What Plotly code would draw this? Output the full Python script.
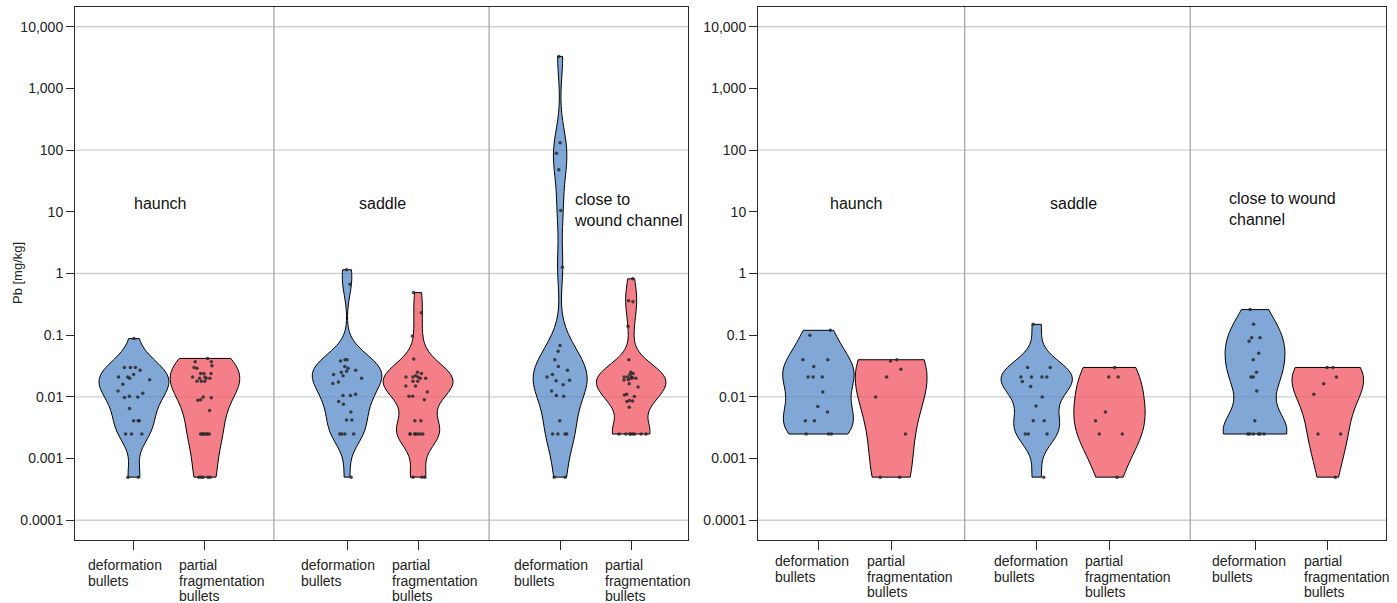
import numpy as np
import plotly.graph_objects as go

# Pb concentrations [mg/kg] per sampling region and bullet type
regions = ["haunch", "saddle", "close to wound channel"]
bullet_types = ["deformation bullets", "partial fragmentation bullets"]

# --- left panel ---
left_haunch_def = [0.088, 0.030, 0.030, 0.030, 0.027, 0.023, 0.021, 0.021, 0.020, 0.019,
                   0.016, 0.0125, 0.0115, 0.0102, 0.010, 0.0098, 0.0065, 0.0041, 0.0041,
                   0.0041, 0.0025, 0.0025, 0.0025, 0.0005, 0.0005]
left_haunch_frag = [0.042, 0.037, 0.037, 0.032, 0.030, 0.029, 0.024, 0.024, 0.024, 0.021,
                    0.021, 0.020, 0.020, 0.020, 0.018, 0.018, 0.018, 0.010, 0.0097, 0.009,
                    0.0088, 0.006, 0.0025, 0.0025, 0.0025, 0.0025, 0.0025, 0.0025, 0.0025,
                    0.0005, 0.0005, 0.0005, 0.0005, 0.0005]
left_saddle_def = [1.15, 0.67, 0.040, 0.040, 0.038, 0.031, 0.029, 0.027, 0.026, 0.025,
                   0.023, 0.022, 0.020, 0.0175, 0.0165, 0.011, 0.0105, 0.0105, 0.0084,
                   0.0076, 0.0057, 0.0042, 0.0042, 0.0025, 0.0025, 0.0025, 0.0025, 0.0005]
left_saddle_frag = [0.49, 0.23, 0.097, 0.041, 0.025, 0.024, 0.022, 0.021, 0.021, 0.021,
                    0.020, 0.020, 0.018, 0.018, 0.015, 0.015, 0.012, 0.0102, 0.0102, 0.009,
                    0.0041, 0.0041, 0.0025, 0.0025, 0.0025, 0.0025, 0.0025, 0.0025, 0.0025,
                    0.0005, 0.0005, 0.0005]
left_wound_def = [3300, 132, 89, 48, 10.5, 1.26, 0.068, 0.055, 0.040, 0.031, 0.027, 0.023,
                  0.021, 0.0186, 0.0183, 0.0157, 0.0124, 0.0105, 0.0102, 0.0041, 0.0025,
                  0.0025, 0.0025, 0.0025, 0.0005, 0.0005]
left_wound_frag = [0.82, 0.36, 0.35, 0.14, 0.040, 0.025, 0.024, 0.023, 0.021, 0.021, 0.021,
                   0.020, 0.020, 0.0205, 0.019, 0.0187, 0.0164, 0.0145, 0.011, 0.0107,
                   0.0101, 0.0087, 0.0086, 0.0084, 0.0068, 0.0025, 0.0025, 0.0025, 0.0025,
                   0.0025, 0.0025, 0.0025, 0.0025]

# --- right panel ---
right_haunch_def = [0.12, 0.10, 0.040, 0.040, 0.031, 0.021, 0.021, 0.021, 0.012, 0.007,
                    0.0057, 0.0041, 0.0041, 0.0025, 0.0025, 0.0025]
right_haunch_frag = [0.040, 0.038, 0.028, 0.021, 0.010, 0.0025, 0.0005, 0.0005]
right_saddle_def = [0.15, 0.030, 0.030, 0.021, 0.021, 0.021, 0.021, 0.0177, 0.0147, 0.010,
                    0.0071, 0.0041, 0.0041, 0.0025, 0.0025, 0.0025, 0.0005]
right_saddle_frag = [0.030, 0.021, 0.021, 0.0057, 0.0041, 0.0025, 0.0025, 0.0005]
right_wound_def = [0.26, 0.15, 0.091, 0.091, 0.080, 0.051, 0.040, 0.025, 0.021, 0.021,
                   0.0124, 0.0041, 0.0025, 0.0025, 0.0025, 0.0025, 0.0025, 0.0025]
right_wound_frag = [0.030, 0.030, 0.021, 0.0164, 0.011, 0.0025, 0.0025, 0.0005]

y_tick_values = [0.0001, 0.001, 0.01, 0.1, 1, 10, 100, 1000, 10000]
y_tick_labels = ["0.0001", "0.001", "0.01", "0.1", "1", "10", "100", "1,000", "10,000"]
grid_values = [0.0001, 0.01, 1, 100, 10000]

W, H = 1397, 603
BLUE_FILL = "rgba(84,136,200,0.74)"
RED_FILL = "rgba(240,82,96,0.74)"
FONT = "Liberation Sans, Arial, sans-serif"

# The value axis is drawn in log10 units so that the density estimate of
# each violin is computed on the logarithmic scale.
lg = np.log10

panels = [
    dict(xa="x", ya="y", dom=(75 / W, 688 / W),
         series=[left_haunch_def, left_haunch_frag, left_saddle_def, left_saddle_frag,
                 left_wound_def, left_wound_frag],
         widths=[0.98, 0.98, 0.98, 0.98, 0.76, 0.98],
         bw=[0.25, 0.35, 0.25, 0.25, 0.35, 0.23],
         seps=(1.97, 5.0),
         label_y=565, shifts=(-48, -28)),
    dict(xa="x2", ya="y2", dom=(758 / W, 1386 / W),
         series=[right_haunch_def, right_haunch_frag, right_saddle_def, right_saddle_frag,
                 right_wound_def, right_wound_frag],
         widths=[0.98, 0.98, 0.98, 0.98, 0.87, 0.98],
         bw=[0.3, 0.6, 0.25, 0.45, 0.33, 0.4],
         seps=(2.01, 5.11),
         label_y=561, shifts=(-45, -26)),
]
positions = [0, 1, 3, 4, 6, 7]

fig = go.Figure()
for p in panels:
    for i, vals in enumerate(p["series"]):
        fig.add_trace(go.Violin(
            x0=positions[i], y=lg(vals), xaxis=p["xa"], yaxis=p["ya"],
            width=p["widths"][i], spanmode="hard", scalemode="width",
            bandwidth=p["bw"][i],
            points="all", pointpos=0, jitter=0.55,
            marker=dict(size=3.5, color="rgba(40,40,40,0.85)"),
            line=dict(color="black", width=1),
            fillcolor=BLUE_FILL if i % 2 == 0 else RED_FILL,
            showlegend=False, hoverinfo="skip",
        ))

y_dom = ((H - 540) / H, (H - 7) / H)
axis_common = dict(showline=True, linecolor="#2a2a2a", linewidth=1, mirror=True,
                   zeroline=False, showgrid=False)
for k, p in enumerate(panels):
    sfx = "" if k == 0 else "2"
    fig.layout["xaxis" + sfx] = dict(
        domain=p["dom"], range=[-0.83, 7.8], anchor="y" + sfx,
        tickvals=positions, ticktext=[""] * 6, ticks="outside", ticklen=9,
        tickcolor="#2a2a2a", **axis_common)
    fig.layout["yaxis" + sfx] = dict(
        domain=y_dom, range=[-4.32, 4.32], anchor="x" + sfx,
        tickvals=lg(y_tick_values), ticktext=y_tick_labels, ticks="outside", ticklen=8,
        tickcolor="#2a2a2a", tickfont=dict(size=14, color="#222", family=FONT),
        **axis_common)

    # light horizontal grid every second decade
    for g in lg(grid_values):
        fig.add_shape(type="line", xref=p["xa"] + " domain", yref=p["ya"],
                      x0=0, x1=1, y0=g, y1=g, layer="below",
                      line=dict(color="#cfcfcf", width=1.3))
    # region separators
    for xs in p["seps"]:
        fig.add_shape(type="line", xref=p["xa"], yref=p["ya"] + " domain",
                      x0=xs, x1=xs, y0=0, y1=1, layer="below",
                      line=dict(color="#a8a8a8", width=1.3))

    # category labels under each violin, one text line per annotation
    for i, pos in enumerate(positions):
        lines = ["deformation", "bullets"] if i % 2 == 0 else ["partial", "fragmentation", "bullets"]
        shift = p["shifts"][i % 2]
        for j, ln in enumerate(lines):
            fig.add_annotation(x=pos, xref=p["xa"], y=(H - (p["label_y"] + 15.5 * j)) / H,
                               yref="paper", text=ln, showarrow=False, xanchor="left",
                               yanchor="middle", xshift=shift,
                               font=dict(size=14, color="#222", family=FONT))

# region names inside the panels
region_text = [
    ("x", "y", 0.38, 1.14, "haunch", "center"),
    ("x", "y", 3.5, 1.14, "saddle", "center"),
    ("x", "y", 6.17, 1.03, "close to<br>wound channel", "left"),
    ("x2", "y2", 0.52, 1.14, "haunch", "center"),
    ("x2", "y2", 3.5, 1.14, "saddle", "center"),
    ("x2", "y2", 5.62, 1.05, "close to wound<br>channel", "left"),
]
for xa, ya, xv, yv, txt, anc in region_text:
    fig.add_annotation(x=xv, y=yv, xref=xa, yref=ya, text=txt, showarrow=False,
                       xanchor=anc, align="left", yanchor="middle",
                       font=dict(size=16, color="#111", family=FONT))

fig.add_annotation(x=17 / W, y=(H - 273) / H, xref="paper", yref="paper",
                   text="Pb [mg/kg]", textangle=-90, showarrow=False,
                   xanchor="center", yanchor="middle",
                   font=dict(size=13, color="#222", family=FONT))

fig.update_layout(
    width=W, height=H, margin=dict(l=0, r=0, t=0, b=0),
    paper_bgcolor="white", plot_bgcolor="white",
    violinmode="overlay", violingap=0, violingroupgap=0,
)

fig.write_html("out.html")
